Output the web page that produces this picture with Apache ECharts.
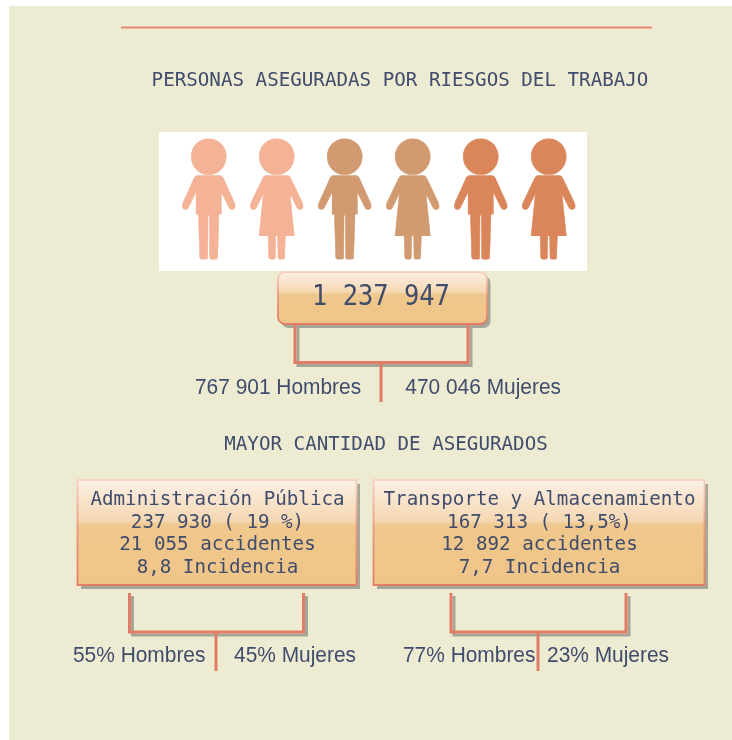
<!DOCTYPE html>
<html><head><meta charset="utf-8">
<style>html,body{margin:0;padding:0;background:#fff}#c{width:732px;height:740px;filter:blur(0.45px)}</style>
<script src="https://cdn.jsdelivr.net/npm/echarts@6/dist/echarts.min.js"></script>
</head><body><div id="c"></div>
<script>
// ---- chart content ----
const mainTitle = 'PERSONAS ASEGURADAS POR RIESGOS DEL TRABAJO';
const subTitle = 'MAYOR CANTIDAD DE ASEGURADOS';
const totalInsured = '1 237 947';
const totalMen = '767 901 Hombres';
const totalWomen = '470 046 Mujeres';
const figureKinds = ['Hombre', 'Mujer', 'Hombre', 'Mujer', 'Hombre', 'Mujer'];
const figureShades = [0, 0, 1, 1, 2, 2];
const sectorNames = ['Administración Pública', 'Transporte y Almacenamiento'];
const sectorInsured = ['237 930 ( 19 %)', '167 313 ( 13,5%)'];
const sectorAccidents = ['21 055 accidentes', '12 892 accidentes'];
const sectorIncidence = ['8,8 Incidencia', '7,7 Incidencia'];
const sectorMen = ['55% Hombres', '77% Hombres'];
const sectorWomen = ['45% Mujeres', '23% Mujeres'];

// ---- styles ----
const INK = '#404C6C', LINE = '#E37C64', SHADOW = '#A4A698', PANEL = '#EEEBD3';
const MONO = '"DejaVu Sans Mono", monospace', SANS = '"Liberation Sans", Arial, sans-serif';
const SHADES = ['#F4B296', '#D29A70', '#DB865A'];
const HEAD = 'M-53 110A53 53 0 1 1 53 110A53 53 0 1 1 -53 110Z';
const ICONS = {
  Hombre: 'path://' + HEAD + 'M-34 168L34 168Q40 168 44 175L78 250Q84 265 72 268Q64 270 60 260L38 216L38 282L31 282L27 412Q27 418 21 418L8 418Q3 418 3 412L2 285L-2 285L-3 412Q-3 418 -8 418L-21 418Q-27 418 -27 412L-31 282L-38 282L-38 216L-60 260Q-64 270 -72 268Q-84 265 -78 250L-44 175Q-40 168 -34 168Z',
  Mujer: 'path://' + HEAD + 'M-32 168L32 168Q38 168 42 175L78 250Q84 265 72 268Q64 270 60 260L40 220L53 347L26 347L24 412Q24 418 18 418L9 418Q4 418 4 412L3 347L-3 347L-4 412Q-4 418 -9 418L-18 418Q-24 418 -24 412L-26 347L-53 347L-40 220L-60 260Q-64 270 -72 268Q-84 265 -78 250L-42 175Q-38 168 -32 168Z'
};

const gloss = {type:'linear',x:0,y:0,x2:0,y2:1,colorStops:[
  {offset:0,color:'#FCF0E6'},{offset:.39,color:'#F5D8B2'},{offset:.43,color:'#F0C78C'},{offset:1,color:'#EFC588'}]};
const rim = {type:'linear',x:0,y:0,x2:0,y2:1,colorStops:[
  {offset:0,color:'#F8D3C4'},{offset:.45,color:'#E99A80'},{offset:1,color:'#E37C64'}]};

function text(x, y, t, font, size, align, sx, sy) {
  return {type:'text', x, y, z:10, scaleX:sx||1, scaleY:sy||1,
    style:{text:t, x:0, y:0, fill:INK, font:size+'px '+font, textAlign:align||'center', textVerticalAlign:'middle'}};
}
function box(x, y, w, h, r) {
  return [
    {type:'rect', z:3, shape:{x:x+3.5,y:y+4,width:w,height:h,r}, style:{fill:SHADOW}},
    {type:'rect', z:4, shape:{x,y,width:w,height:h,r}, style:{fill:gloss, stroke:rim, lineWidth:1.8}}
  ];
}
function bracket(xl, xr, top, bottom, stemX, stemEnd) {
  const pts = [[xl,top],[xl,bottom],[xr,bottom],[xr,top]];
  return [
    {type:'polyline', z:3, shape:{points:pts.map(p=>[p[0]+3,p[1]+3])}, style:{stroke:SHADOW, lineWidth:3, fill:null}},
    {type:'polyline', z:4, shape:{points:pts}, style:{stroke:LINE, lineWidth:3, fill:null}},
    {type:'line', z:4, shape:{x1:stemX,y1:bottom,x2:stemX,y2:stemEnd}, style:{stroke:LINE, lineWidth:3}}
  ];
}

const sectorLayout = [
  {x:77.5, w:279, xl:129.5, xr:303.5, stem:216, men:[73,'left'], women:[356,'right']},
  {x:373.5, w:331, xl:451, xr:626, stem:538, men:[403,'left'], women:[669,'right']}
];
const MONOX = 1.01, SANSX = 0.95;

const elements = [
  {type:'rect', z:0, shape:{x:9,y:6,width:723,height:734}, style:{fill:PANEL}},
  {type:'line', z:1, shape:{x1:121,y1:27.5,x2:652,y2:27.5}, style:{stroke:'#E58A70', lineWidth:2}},
  {type:'rect', z:1, shape:{x:159,y:132,width:428,height:139}, style:{fill:'#FFFFFF'}},
  text(400, 81, mainTitle, MONO, 19, 'center', MONOX),
  ...box(278, 272, 209, 52, 7),
  text(381, 298, totalInsured, MONO, 24, 'center', 1.06, 1.15),
  ...bracket(295, 468, 324, 362.5, 381, 402),
  text(195, 388, totalMen, SANS, 22, 'left', SANSX),
  text(561, 388, totalWomen, SANS, 22, 'right', SANSX),
  text(386, 445, subTitle, MONO, 19, 'center', MONOX)
];
sectorNames.forEach((name, i) => {
  const L = sectorLayout[i];
  elements.push(...box(L.x, 480, L.w, 105, 0));
  [name, sectorInsured[i], sectorAccidents[i], sectorIncidence[i]].forEach((t, k) => {
    elements.push(text(L.x + L.w/2 + 0.5, 500 + k*22.7, t, MONO, 19, 'center', MONOX));
  });
  elements.push(...bracket(L.xl, L.xr, 593, 632, L.stem, 671));
  elements.push(text(L.men[0], 655.5, sectorMen[i], SANS, 22, L.men[1], SANSX));
  elements.push(text(L.women[0], 655.5, sectorWomen[i], SANS, 22, L.women[1], SANSX));
});

const chart = echarts.init(document.getElementById('c'), null, {renderer:'canvas'});
chart.setOption({
  animation:false,
  backgroundColor:'#FFFFFF',
  grid:{left:174.7, width:408, top:139, height:120},
  xAxis:{type:'category', data:figureKinds.map((k,i)=>k+(i+1)), show:false},
  yAxis:{type:'value', min:0, max:1, show:false},
  graphic:{elements},
  series:[{
    type:'scatter', z:6, silent:true,
    data:figureKinds.map((k,i)=>({
      value:[i, 0.5], symbol:ICONS[k], symbolSize:[53, 120],
      itemStyle:{color:SHADES[figureShades[i]], opacity:1, borderColor:SHADES[figureShades[i]], borderWidth:0.8}
    }))
  }]
});
</script></body></html>
